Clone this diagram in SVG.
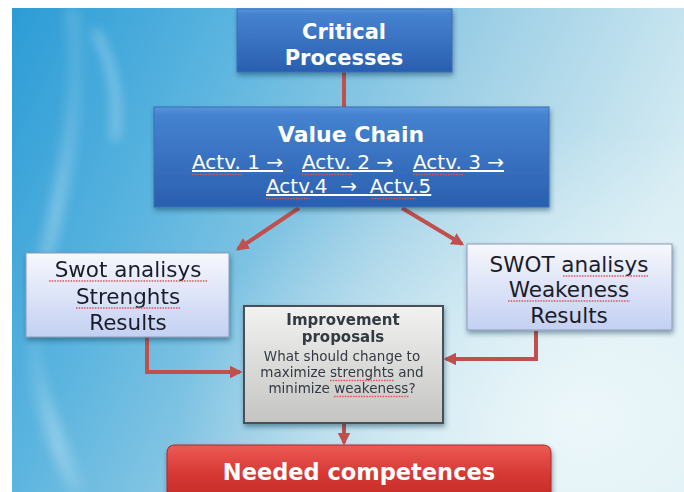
<svg xmlns="http://www.w3.org/2000/svg" width="684" height="492" viewBox="0 0 684 492">
  <defs>
    <linearGradient id="bg" x1="0" y1="0" x2="1" y2="0.35">
      <stop offset="0" stop-color="#2c9cd6"/>
      <stop offset="0.3" stop-color="#5ab4df"/>
      <stop offset="0.65" stop-color="#9fd0e6"/>
      <stop offset="1" stop-color="#d6ecf3"/>
    </linearGradient>
    <radialGradient id="glowBR" cx="0.85" cy="0.85" r="0.6">
      <stop offset="0" stop-color="#eef8fa" stop-opacity="0.9"/>
      <stop offset="1" stop-color="#eef8fa" stop-opacity="0"/>
    </radialGradient>
    <linearGradient id="streak" x1="0" y1="0" x2="1" y2="0">
      <stop offset="0" stop-color="#ffffff" stop-opacity="0"/>
      <stop offset="0.5" stop-color="#ffffff" stop-opacity="0.35"/>
      <stop offset="1" stop-color="#ffffff" stop-opacity="0"/>
    </linearGradient>
    <linearGradient id="blue" x1="0" y1="0" x2="0" y2="1">
      <stop offset="0" stop-color="#5a95db"/>
      <stop offset="0.08" stop-color="#4582cf"/>
      <stop offset="1" stop-color="#2a5fb0"/>
    </linearGradient>
    <linearGradient id="lav" x1="0" y1="0" x2="0" y2="1">
      <stop offset="0" stop-color="#f7f8fd"/>
      <stop offset="1" stop-color="#c3d0f2"/>
    </linearGradient>
    <linearGradient id="gray" x1="0" y1="0" x2="0" y2="1">
      <stop offset="0" stop-color="#f2f2f0"/>
      <stop offset="1" stop-color="#c4c4c2"/>
    </linearGradient>
    <linearGradient id="red" x1="0" y1="0" x2="0" y2="1">
      <stop offset="0" stop-color="#ec5a55"/>
      <stop offset="0.5" stop-color="#d83a35"/>
      <stop offset="1" stop-color="#c22a26"/>
    </linearGradient>
    <filter id="sh" x="-10%" y="-10%" width="120%" height="130%">
      <feDropShadow dx="1" dy="3" stdDeviation="2.5" flood-color="#10304a" flood-opacity="0.45"/>
    </filter>
    <filter id="blur" x="-20%" y="-20%" width="140%" height="140%">
      <feGaussianBlur stdDeviation="6"/>
    </filter>
    <marker id="ah" viewBox="0 0 10 10" refX="8" refY="5" markerWidth="3.2" markerHeight="3.2" orient="auto" markerUnits="strokeWidth">
      <path d="M0,0 L10,5 L0,10 z" fill="#c0504d"/>
    </marker>
  </defs>
  <style>
    .conn { fill: none; stroke: #c0504d; stroke-width: 4; }
    .wt { fill: #ffffff; font-family: "DejaVu Sans", Verdana, sans-serif; text-anchor: middle; }
    .st { text-anchor: start; }
    .bold { font-weight: bold; }
    .dk { fill: #1c1c28; font-family: "DejaVu Sans", Verdana, sans-serif; text-anchor: middle; font-size: 21.5px; }
    .imp { fill: #333a44; font-family: "DejaVu Sans", Verdana, sans-serif; text-anchor: middle; }
    .ul { text-decoration: underline; }
    .sq { fill: none; stroke: #e0505a; stroke-width: 1.3; stroke-dasharray: 1.5 1.2; }
  </style>

  <!-- background -->
  <rect width="684" height="492" fill="#ffffff"/>
  <rect x="12" y="8" width="672" height="484" fill="url(#bg)"/>
  <rect x="12" y="8" width="672" height="484" fill="url(#glowBR)"/>
  <g filter="url(#blur)" opacity="0.9">
    <path d="M80,8 C95,90 70,200 40,300 C30,360 60,430 90,492 L70,492 C40,430 15,360 25,300 C55,200 80,90 65,8 z" fill="url(#streak)"/>
    <path d="M95,30 C110,60 120,90 115,140" stroke="#dff4fb" stroke-width="6" fill="none" opacity="0.6"/>
  </g>

  <!-- connectors -->
  <g id="connectors">
    <line class="conn" x1="344" y1="72" x2="344" y2="107"/>
    <line class="conn" x1="299" y1="208" x2="238" y2="249" marker-end="url(#ah)"/>
    <line class="conn" x1="402" y1="208" x2="462" y2="244" marker-end="url(#ah)"/>
    <polyline class="conn" points="147,337 147,372 240,372" marker-end="url(#ah)"/>
    <polyline class="conn" points="536,331 536,359 446,359" marker-end="url(#ah)"/>
    <line class="conn" x1="344" y1="423" x2="344" y2="443" marker-end="url(#ah)"/>
  </g>

  <!-- Critical Processes -->
  <g id="critical">
    <rect x="237" y="9" width="215" height="63" fill="url(#blue)" stroke="#3a6fb8" stroke-width="1" filter="url(#sh)"/>
    <text class="wt bold" x="344" y="39" font-size="21">Critical</text>
    <text class="wt bold" x="344" y="65" font-size="21">Processes</text>
  </g>

  <!-- Value Chain -->
  <g id="valuechain">
    <rect x="154" y="107" width="395" height="100" fill="url(#blue)" stroke="#3a6fb8" stroke-width="1" filter="url(#sh)"/>
    <text class="wt bold" x="351" y="142" font-size="22">Value Chain</text>
    <text class="wt st" y="169" font-size="20" xml:space="preserve"><tspan class="ul" x="192">Actv. 1 →</tspan><tspan class="ul" x="302">Actv. 2 →</tspan><tspan class="ul" x="413">Actv. 3 →</tspan></text>
    <text class="wt st" x="266" y="193" font-size="20" xml:space="preserve"><tspan class="ul">Actv.4  →  Actv.5</tspan></text>
    <path class="sq" d="M192,174.5 H243 M302,174.5 H353 M413,174.5 H464 M266,198.5 H310 M372,198.5 H416"/>
  </g>

  <!-- SWOT strengths -->
  <g id="swot-strengths">
    <rect x="26" y="253" width="203" height="84" fill="url(#lav)" stroke="#8a9ab8" stroke-width="1" filter="url(#sh)"/>
    <text class="dk" x="128" y="277">Swot analisys</text>
    <text class="dk" x="128" y="304">Strenghts</text>
    <text class="dk" x="128" y="330">Results</text>
    <path class="sq" d="M49,281 H207 M76,308 H180"/>
  </g>

  <!-- SWOT weakness -->
  <g id="swot-weakness">
    <rect x="467" y="244" width="205" height="86" fill="url(#lav)" stroke="#8a9ab8" stroke-width="1" filter="url(#sh)"/>
    <text class="dk" x="569" y="272">SWOT analisys</text>
    <text class="dk" x="569" y="297">Weakeness</text>
    <text class="dk" x="569" y="323">Results</text>
    <path class="sq" d="M563,276 H648 M508,301 H630"/>
  </g>

  <!-- Improvement proposals -->
  <g id="improvement">
    <rect x="244" y="306" width="199" height="117" fill="url(#gray)" stroke="#4a4f55" stroke-width="2" filter="url(#sh)"/>
    <text class="imp bold" x="343" y="325" font-size="15">Improvement</text>
    <text class="imp bold" x="343" y="342" font-size="15">proposals</text>
    <text class="imp" x="342" y="361" font-size="13.5" fill="#4e5666">What should change to</text>
    <text class="imp" x="342" y="377" font-size="13.5" fill="#4e5666">maximize strenghts and</text>
    <text class="imp" x="342" y="393" font-size="13.5" fill="#4e5666">minimize weakeness?</text>
    <path class="sq" d="M330,380.5 H394 M334,396.5 H409"/>
  </g>

  <!-- Needed competences -->
  <g id="needed">
    <path d="M167,500 L167,453 Q167,445 175,445 L543,445 Q551,445 551,453 L551,500 z" fill="url(#red)" stroke="#b02824" stroke-width="1" filter="url(#sh)"/>
    <text class="wt bold" x="359" y="480" font-size="22.5">Needed competences</text>
  </g>
</svg>
